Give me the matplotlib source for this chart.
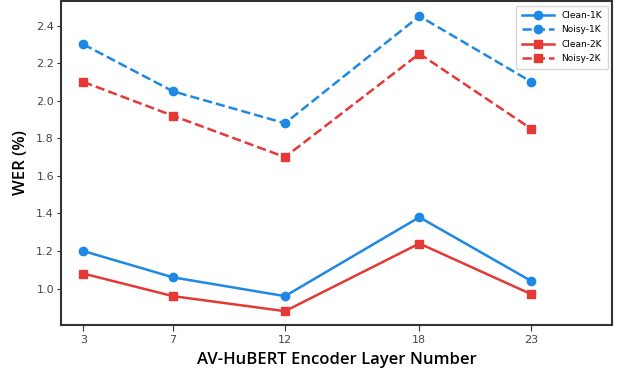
import matplotlib
matplotlib.use("Agg")
import matplotlib.pyplot as plt

layers = [3, 7, 12, 18, 23]
clean_1k = [1.20, 1.06, 0.96, 1.38, 1.04]
noisy_1k = [2.30, 2.05, 1.88, 2.45, 2.10]
clean_2k = [1.08, 0.96, 0.88, 1.24, 0.97]
noisy_2k = [2.10, 1.92, 1.70, 2.25, 1.85]

blue = "#1E88E5"
red = "#E53935"

fig = plt.figure(figsize=(6.22, 3.73), dpi=100)
ax = fig.add_axes([0.098, 0.129, 0.886, 0.868])

ax.plot(layers, clean_1k, color=blue, linestyle="-", marker="o", markersize=6, linewidth=1.8, label="Clean-1K")
ax.plot(layers, noisy_1k, color=blue, linestyle="--", marker="o", markersize=6, linewidth=1.8, label="Noisy-1K")
ax.plot(layers, clean_2k, color=red, linestyle="-", marker="s", markersize=6, linewidth=1.8, label="Clean-2K")
ax.plot(layers, noisy_2k, color=red, linestyle="--", marker="s", markersize=6, linewidth=1.8, label="Noisy-2K")

ax.set_xlim(2, 26.6)
ax.set_ylim(0.807, 2.53)
ax.set_xticks(layers)
ax.set_xticklabels([str(l) for l in layers])
ax.set_yticks([1.0, 1.2, 1.4, 1.6, 1.8, 2.0, 2.2, 2.4])
ax.tick_params(axis="x", labelsize=8, labelcolor="#444444", color="#333333", length=4, pad=3)
ax.tick_params(axis="y", labelsize=8, labelcolor="#444444", color="#333333", length=3, pad=2)
for s in ax.spines.values():
    s.set_linewidth(1.5)
    s.set_color("#333333")

ax.set_xlabel("AV-HuBERT Encoder Layer Number", fontsize=12, family="Open Sans", fontweight="semibold", labelpad=5)
ax.set_ylabel("WER (%)", fontsize=12, family="Open Sans", fontweight="semibold", labelpad=5)
ax.legend(loc="upper right", fontsize=6.5, handlelength=3.6, borderpad=0.6, labelspacing=0.6)

fig.savefig("out.png", dpi=100)
